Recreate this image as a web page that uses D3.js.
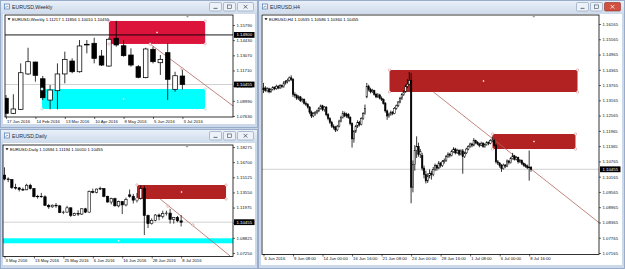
<!DOCTYPE html>
<html><head><meta charset="utf-8">
<script src="https://cdn.jsdelivr.net/npm/d3@7/dist/d3.min.js"></script>
<style>
html,body{margin:0;padding:0;background:#c4d3e6;overflow:hidden}
svg{display:block;font-family:"Liberation Sans",Arial,sans-serif}
</style></head><body>
<svg id="chart" width="625" height="269"></svg>
<script>
const symbol = "EURUSD";

// ---------- Weekly ----------
const weeklyLabels = ["17 Jan 2016","14 Feb 2016","13 Mar 2016","10 Apr 2016","8 May 2016","5 Jun 2016","3 Jul 2016"];
const weeklyLabelIdx = [0,4,8,12,16,20,24];
const weeklyTicks = [1.15790,1.14430,1.13070,1.11710,1.10350,1.08990,1.07630];
// [open, high, low, close]
const weeklyOHLC = [
 [1.0922,1.0951,1.0750,1.0787],[1.0787,1.0958,1.0780,1.0826],[1.0823,1.1235,1.0817,1.1151],
 [1.1140,1.1375,1.1131,1.1250],[1.1247,1.1250,1.1071,1.1128],[1.1097,1.1122,1.0906,1.0927],
 [1.0906,1.1041,1.0823,1.0996],[1.0990,1.1235,1.0823,1.1140],[1.1140,1.1340,1.1056,1.1271],
 [1.1256,1.1280,1.1146,1.1160],[1.1160,1.1444,1.1152,1.1391],[1.1406,1.1444,1.1325,1.1400],
 [1.1415,1.1465,1.1235,1.1280],[1.1301,1.1355,1.1211,1.1220],[1.1211,1.1465,1.1205,1.1451],
 [1.1460,1.1616,1.1384,1.1400],[1.1393,1.1444,1.1295,1.1304],[1.1310,1.1370,1.1205,1.1220],
 [1.1205,1.1220,1.1101,1.1110],[1.1107,1.1375,1.1101,1.1364],[1.1361,1.1384,1.1235,1.1250],
 [1.1241,1.1310,1.1131,1.1271],[1.1331,1.1415,1.0906,1.1092],[1.1002,1.1160,1.0981,1.1124],
 [1.11217,1.11856,1.10010,1.10455]
];
const weeklyLevel = 1.14900;
// [bar start, bar end, price top, price bottom]
const weeklyRedZone = [14.0, 27.1, 1.1615, 1.1409];
const weeklyCyanZone = [4.9, 27.1, 1.1005, 1.0826];
const weeklyTrend = [[19.6, 1.1409],[30.9, 1.0853]];
const weeklyTrendPoints = [[19.6, 1.1409],[23.95, 1.11856]];

// ---------- Daily ----------
const dailyLabels = ["3 May 2016","13 May 2016","25 May 2016","6 Jun 2016","16 Jun 2016","28 Jun 2016","8 Jul 2016"];
const dailyLabelIdx = [0,8,16,24,32,40,48];
const dailyTicks = [1.18275,1.16700,1.15125,1.13550,1.11975,1.10400,1.08825,1.07250];
const dailyOHLC = [
 [1.1535,1.1616,1.1480,1.1495],[1.1495,1.1512,1.1462,1.1488],[1.1488,1.1495,1.1390,1.1405],
 [1.1405,1.1445,1.1385,1.1402],[1.1402,1.1412,1.1365,1.1385],[1.1385,1.1405,1.1370,1.1382],
 [1.1382,1.1445,1.1378,1.1430],[1.1430,1.1445,1.1385,1.1395],[1.1395,1.1400,1.1305,1.1310],
 [1.1310,1.1330,1.1290,1.1315],[1.1315,1.1350,1.1300,1.1310],[1.1310,1.1325,1.1215,1.1220],
 [1.1220,1.1235,1.1185,1.1205],[1.1205,1.1230,1.1195,1.1222],[1.1222,1.1245,1.1195,1.1215],
 [1.1215,1.1225,1.1140,1.1145],[1.1145,1.1165,1.1130,1.1150],[1.1150,1.1215,1.1145,1.1195],
 [1.1195,1.1200,1.1100,1.1115],[1.1115,1.1145,1.1110,1.1135],[1.1135,1.1170,1.1110,1.1130],
 [1.1130,1.1190,1.1120,1.1185],[1.1185,1.1195,1.1140,1.1150],[1.1150,1.1375,1.1145,1.1365],
 [1.1365,1.1395,1.1345,1.1355],[1.1355,1.1395,1.1345,1.1390],[1.1390,1.1415,1.1380,1.1395],
 [1.1395,1.1400,1.1305,1.1315],[1.1315,1.1320,1.1250,1.1255],[1.1255,1.1300,1.1230,1.1290],
 [1.1290,1.1300,1.1210,1.1215],[1.1215,1.1270,1.1200,1.1260],[1.1260,1.1265,1.1130,1.1225],
 [1.1225,1.1300,1.1210,1.1280],[1.1330,1.1385,1.1300,1.1315],[1.1315,1.1340,1.1240,1.1275],
 [1.1275,1.1350,1.1250,1.1295],[1.1295,1.1428,1.1280,1.1395],[1.1395,1.1424,1.0912,1.1115],
 [1.1115,1.1125,1.0985,1.1030],[1.1030,1.1085,1.1020,1.1065],[1.1065,1.1130,1.1055,1.1120],
 [1.1120,1.1135,1.1065,1.1105],[1.1105,1.1165,1.1085,1.1135],[1.1135,1.1165,1.1115,1.1140],
 [1.1140,1.1185,1.1030,1.1075],[1.1075,1.1100,1.1030,1.1095],[1.1095,1.1110,1.1045,1.10594],
 [1.10594,1.11194,1.10010,1.10455]
];
const dailyRedZone = [36.0, 60.2, 1.14322, 1.12866];
const dailyCyanZone = [-3, 65, 1.08779, 1.08259];
const dailyTrend = [[42.3, 1.12866],[61.3, 1.0694]];
const dailyTrendPoints = [[44.4, 1.1213],[51.2, 1.1016]];

// ---------- H4 ----------
const h4Labels = ["6 Jun 2016","9 Jun 08:00","14 Jun 00:00","16 Jun 16:00","21 Jun 08:00","24 Jun 00:00","28 Jun 16:00","1 Jul 08:00","6 Jul 00:00","8 Jul 16:00"];
const h4LabelIdx = [0,16,32,48,64,80,96,112,128,144];
const h4Ticks = [1.16165,1.15565,1.14965,1.14365,1.13765,1.13165,1.12565,1.11965,1.11365,1.10765,1.10165,1.09565,1.08965,1.08365,1.07765,1.07165];
const h4OHLC = [
 [1.1358,1.1385,1.1345,1.1365],[1.1365,1.1372,1.1350,1.1355],[1.1355,1.1368,1.1348,1.1362],[1.1362,1.1366,1.1344,1.1350],
 [1.1350,1.1364,1.1346,1.1360],[1.1360,1.1372,1.1355,1.1368],[1.1368,1.1371,1.1356,1.1362],[1.1362,1.1378,1.1358,1.1372],
 [1.1372,1.1376,1.1360,1.1365],[1.1365,1.1380,1.1362,1.1375],[1.1375,1.1379,1.1364,1.1370],[1.1370,1.1392,1.1366,1.1385],
 [1.1385,1.1396,1.1378,1.1390],[1.1390,1.1402,1.1383,1.1395],[1.1395,1.1410,1.1390,1.1405],[1.1405,1.1415,1.1392,1.1398],
 [1.1398,1.1404,1.1330,1.1340],[1.1340,1.1348,1.1326,1.1335],[1.1335,1.1342,1.1318,1.1325],[1.1325,1.1336,1.1318,1.1330],
 [1.1330,1.1334,1.1310,1.1315],[1.1315,1.1326,1.1308,1.1320],[1.1320,1.1324,1.1300,1.1305],[1.1305,1.1312,1.1294,1.1300],
 [1.1300,1.1306,1.1284,1.1290],[1.1290,1.1294,1.1262,1.1270],[1.1270,1.1276,1.1247,1.1255],[1.1255,1.1270,1.1250,1.1265],
 [1.1265,1.1274,1.1256,1.1270],[1.1270,1.1280,1.1262,1.1275],[1.1275,1.1290,1.1270,1.1285],[1.1285,1.1300,1.1280,1.1295],
 [1.1295,1.1299,1.1274,1.1280],[1.1280,1.1294,1.1272,1.1290],[1.1290,1.1293,1.1254,1.1260],[1.1260,1.1266,1.1238,1.1245],
 [1.1245,1.1250,1.1224,1.1230],[1.1230,1.1236,1.1208,1.1215],[1.1215,1.1222,1.1202,1.1210],[1.1210,1.1216,1.1192,1.1200],
 [1.1200,1.1220,1.1195,1.1215],[1.1215,1.1240,1.1210,1.1235],[1.1235,1.1256,1.1230,1.1250],[1.1250,1.1275,1.1245,1.1265],
 [1.1265,1.1272,1.1250,1.1255],[1.1255,1.1268,1.1248,1.1262],[1.1262,1.1266,1.1244,1.1250],[1.1250,1.1254,1.1218,1.1225],
 [1.1225,1.1230,1.1131,1.1165],[1.1165,1.1200,1.1150,1.1195],[1.1195,1.1220,1.1188,1.1215],[1.1215,1.1238,1.1208,1.1230],
 [1.1230,1.1236,1.1214,1.1222],[1.1222,1.1250,1.1218,1.1245],[1.1245,1.1270,1.1240,1.1265],[1.1265,1.1300,1.1260,1.1285],
 [1.1330,1.1385,1.1325,1.1370],[1.1370,1.1378,1.1352,1.1360],[1.1360,1.1366,1.1344,1.1350],[1.1350,1.1362,1.1345,1.1355],
 [1.1355,1.1358,1.1335,1.1340],[1.1340,1.1346,1.1325,1.1330],[1.1330,1.1345,1.1326,1.1338],[1.1338,1.1342,1.1320,1.1325],
 [1.1325,1.1332,1.1314,1.1320],[1.1320,1.1324,1.1300,1.1305],[1.1305,1.1310,1.1268,1.1275],[1.1275,1.1280,1.1240,1.1255],
 [1.1255,1.1268,1.1248,1.1262],[1.1262,1.1276,1.1256,1.1270],[1.1270,1.1274,1.1258,1.1265],[1.1265,1.1290,1.1262,1.1285],
 [1.1285,1.1300,1.1280,1.1295],[1.1295,1.1314,1.1290,1.1310],[1.1310,1.1330,1.1305,1.1325],[1.1325,1.1345,1.1318,1.1340],
 [1.1340,1.1356,1.1334,1.1350],[1.1350,1.1378,1.1346,1.1372],[1.1372,1.1400,1.1365,1.1380],[1.1380,1.1428,1.1375,1.1395],
 [1.1395,1.1424,1.0912,1.0975],[1.0975,1.1080,1.0955,1.1065],[1.1065,1.1140,1.1040,1.1120],[1.1120,1.1175,1.1090,1.1135],
 [1.1135,1.1150,1.1095,1.1105],[1.1105,1.1125,1.1090,1.1115],[1.1100,1.1110,1.1040,1.1050],[1.1050,1.1060,1.1010,1.1025],
 [1.1025,1.1040,1.0990,1.1000],[1.1000,1.1030,1.0992,1.1020],[1.1020,1.1045,1.1010,1.1030],[1.1030,1.1040,1.1005,1.1025],
 [1.1025,1.1055,1.1018,1.1045],[1.1045,1.1068,1.1038,1.1060],[1.1060,1.1064,1.1040,1.1050],[1.1050,1.1078,1.1046,1.1070],
 [1.1070,1.1074,1.1052,1.1060],[1.1060,1.1082,1.1055,1.1075],[1.1075,1.1088,1.1068,1.1080],[1.1080,1.1102,1.1075,1.1095],
 [1.1095,1.1112,1.1090,1.1105],[1.1105,1.1110,1.1092,1.1100],[1.1100,1.1122,1.1096,1.1115],[1.1115,1.1132,1.1110,1.1125],
 [1.1125,1.1130,1.1104,1.1110],[1.1110,1.1126,1.1106,1.1120],[1.1120,1.1124,1.1098,1.1105],[1.1105,1.1124,1.1100,1.1118],
 [1.1118,1.1125,1.1028,1.1095],[1.1095,1.1115,1.1090,1.1110],[1.1110,1.1130,1.1105,1.1125],[1.1125,1.1140,1.1120,1.1135],
 [1.1135,1.1150,1.1130,1.1145],[1.1145,1.1150,1.1132,1.1140],[1.1140,1.1168,1.1136,1.1158],[1.1158,1.1162,1.1144,1.1150],
 [1.1150,1.1156,1.1140,1.1145],[1.1145,1.1150,1.1132,1.1140],[1.1140,1.1154,1.1136,1.1148],[1.1148,1.1152,1.1130,1.1135],
 [1.1135,1.1148,1.1130,1.1142],[1.1142,1.1156,1.1138,1.1150],[1.1150,1.1155,1.1140,1.1148],[1.1148,1.1164,1.1144,1.1158],
 [1.1158,1.1174,1.1152,1.1160],[1.1160,1.1164,1.1135,1.1140],[1.1140,1.1145,1.1068,1.1075],[1.1075,1.1082,1.1062,1.1070],
 [1.1070,1.1074,1.1052,1.1060],[1.1060,1.1066,1.1035,1.1048],[1.1048,1.1068,1.1044,1.1062],[1.1062,1.1066,1.1050,1.1058],
 [1.1058,1.1084,1.1054,1.1078],[1.1078,1.1082,1.1064,1.1072],[1.1072,1.1094,1.1068,1.1088],[1.1088,1.1110,1.1084,1.1098],
 [1.1098,1.1102,1.1080,1.1085],[1.1085,1.1098,1.1080,1.1092],[1.1092,1.1095,1.1068,1.1075],[1.1075,1.1086,1.1070,1.1080],
 [1.1080,1.1084,1.1062,1.1068],[1.1068,1.1072,1.1056,1.1062],[1.1062,1.1068,1.1052,1.1058],[1.1058,1.1064,1.1046,1.1052],
 [1.1052,1.11194,1.1001,1.10535],[1.10535,1.10586,1.10360,1.10455]
];
const h4UpperZone = [68.3, 170.2, 1.14357, 1.13493];
const h4LowerZone = [124.1, 169.1, 1.11842, 1.11252];
const h4Trend = [[92.1, 1.13493],[182.1, 1.08344]];

// ================= drawing =================
const svg = d3.select('#chart');
const defs = svg.append('defs');
const tg = defs.append('linearGradient').attr('id','tb').attr('x1',0).attr('y1',0).attr('x2',0).attr('y2',1);
tg.append('stop').attr('offset','0%').attr('stop-color','#e9f0f8');
tg.append('stop').attr('offset','100%').attr('stop-color','#cfdcec');

function drawWindow(x,y,w,h,title,active){
  const g = svg.append('g');
  g.append('rect').attr('x',x+0.5).attr('y',y+0.5).attr('width',w-1).attr('height',h-1)
    .attr('fill','#cbd9ea').attr('stroke','#8ea4c2').attr('stroke-width',0.8);
  g.append('rect').attr('x',x+1).attr('y',y+1).attr('width',w-2).attr('height',12.5).attr('fill','url(#tb)');
  g.append('rect').attr('x',x+4.5).attr('y',y+4).attr('width',5).attr('height',5)
    .attr('fill','#f4f8fc').attr('stroke','#4d79ad').attr('stroke-width',0.7);
  g.append('path').attr('d',`M${x+5.5},${y+8}L${x+7},${y+6}L${x+8.5},${y+7}`).attr('fill','none').attr('stroke','#2a5a9a').attr('stroke-width',0.5);
  g.append('text').attr('x',x+12).attr('y',y+9).attr('font-size',5.2).attr('fill','#1d2b40').text(title);
  const R = x+w;
  [[R-49,12],[R-35,12],[R-21,16]].forEach(([bx,bw],k)=>{
    const close = k===2 && active;
    g.append('rect').attr('x',bx+0.5).attr('y',y+2.5).attr('width',bw).attr('height',8.5).attr('rx',1.2)
     .attr('fill', close?'#d0513f':'#edf2f8').attr('stroke', close?'#8f2e22':'#8698b3').attr('stroke-width',0.6);
    const cx = bx+0.5+bw/2, cy = y+6.75, col = close?'#fff':'#3d4b5e';
    if(k===0) g.append('line').attr('x1',cx-2).attr('x2',cx+2).attr('y1',cy+1.6).attr('y2',cy+1.6).attr('stroke',col).attr('stroke-width',0.8);
    if(k===1) g.append('rect').attr('x',cx-2).attr('y',cy-1.8).attr('width',4).attr('height',3.6).attr('fill','none').attr('stroke',col).attr('stroke-width',0.6);
    if(k===2) g.append('path').attr('d',`M${cx-1.8},${cy-1.8}L${cx+1.8},${cy+1.8}M${cx+1.8},${cy-1.8}L${cx-1.8},${cy+1.8}`).attr('stroke',col).attr('stroke-width',0.8);
  });
  g.append('rect').attr('x',x+3).attr('y',y+14).attr('width',w-6).attr('height',h-18).attr('fill','#fff');
}

function drawPanel(p){
  const x = d3.scaleLinear().domain([0,1]).range([p.x0, p.x0+p.step]);
  const y = d3.scaleLinear().domain([p.ticks[p.ticks.length-1], p.ticks[0]]).range([p.tickBotY, p.tickTopY]);
  const g = svg.append('g');
  defs.append('clipPath').attr('id','clip'+p.id).append('rect')
    .attr('x',p.left).attr('y',p.top).attr('width',p.right-p.left).attr('height',p.bottom-p.top);
  const plot = g.append('g').attr('clip-path',`url(#clip${p.id})`);
  const last = p.data[p.data.length-1];
  const bid = last[3];

  p.zones.forEach(z=>{
    plot.append('rect').attr('x',x(z.r[0])).attr('width',x(z.r[1])-x(z.r[0]))
      .attr('y',y(z.r[2])).attr('height',y(z.r[3])-y(z.r[2])).attr('fill',z.color);
  });
  plot.append('line').attr('x1',p.left).attr('x2',p.right).attr('y1',y(bid)).attr('y2',y(bid))
    .attr('stroke','#c4c4c4').attr('stroke-width',0.8);
  if(p.level!==undefined){
    plot.append('line').attr('x1',p.left).attr('x2',p.right).attr('y1',y(p.level)).attr('y2',y(p.level))
      .attr('stroke','#000').attr('stroke-width',0.9);
  }
  plot.append('line').attr('x1',x(p.trend[0][0])).attr('y1',y(p.trend[0][1]))
    .attr('x2',x(p.trend[1][0])).attr('y2',y(p.trend[1][1]))
    .attr('stroke','#b2665e').attr('stroke-width',0.8);
  const c = plot.append('g').selectAll('g').data(p.data).join('g');
  c.append('line').attr('x1',(d,i)=>x(i)).attr('x2',(d,i)=>x(i))
    .attr('y1',d=>y(d[1])).attr('y2',d=>y(d[2])).attr('stroke','#000').attr('stroke-width',p.wick);
  c.append('rect').attr('x',(d,i)=>x(i)-p.bodyW/2).attr('width',p.bodyW)
    .attr('y',d=>y(Math.max(d[0],d[3])))
    .attr('height',d=>Math.max(0.5,Math.abs(y(d[0])-y(d[3]))))
    .attr('fill',d=>d[3]>d[0]?p.bullFill:'#000').attr('stroke','#000').attr('stroke-width',p.bodyStroke);
  p.zones.forEach(z=>{
    const pts=[[z.r[0],z.r[2]],[z.r[1],z.r[2]],[z.r[1],z.r[3]],[z.r[0],z.r[3]]];
    pts.forEach(q=>plot.append('circle').attr('cx',x(q[0])).attr('cy',y(q[1])).attr('r',1.2)
      .attr('fill','#fff').attr('stroke',z.mark).attr('stroke-width',0.5));
    plot.append('rect').attr('x',x((z.r[0]+z.r[1])/2)-0.7).attr('y',y((z.r[2]+z.r[3])/2)-0.7)
      .attr('width',1.4).attr('height',1.4).attr('fill','#fff');
  });
  (p.trendPoints||[]).forEach(q=>plot.append('circle').attr('cx',x(q[0])).attr('cy',y(q[1])).attr('r',1.2)
      .attr('fill','#fff').attr('stroke','#c07070').attr('stroke-width',0.5));

  g.append('rect').attr('x',p.left).attr('y',p.top).attr('width',p.right-p.left).attr('height',p.bottom-p.top)
    .attr('fill','none').attr('stroke','#000').attr('stroke-width',0.8);
  const sx = x(p.shiftIdx);
  g.append('path').attr('d',`M${sx-1.6},${p.top+0.8}L${sx+1.6},${p.top+0.8}L${sx},${p.top+2.8}Z`).attr('fill','#9a9a9a');

  const ya = g.append('g').attr('transform',`translate(${p.right},0)`)
    .call(d3.axisRight(y).tickValues(p.ticks).tickSize(2).tickPadding(1.5).tickFormat(d3.format('.5f')));
  ya.select('.domain').remove();
  ya.selectAll('text').attr('font-size',4.3).attr('font-family','"Liberation Sans",Arial,sans-serif').attr('fill','#111');
  ya.selectAll('line').attr('stroke-width',0.6);
  const hl = [bid].concat(p.level!==undefined?[p.level]:[]);
  hl.forEach(v=>{
    g.append('rect').attr('x',p.right+1).attr('y',y(v)-2.9).attr('width',20.5).attr('height',5.8).attr('fill','#000');
    g.append('text').attr('x',p.right+3.5).attr('y',y(v)+1.5).attr('font-size',4.3).attr('fill','#fff').text(d3.format('.5f')(v));
  });
  const xa = g.append('g').attr('transform',`translate(0,${p.bottom})`)
    .call(d3.axisBottom(x).tickValues(p.labelIdx).tickFormat((d,i)=>p.labels[i]).tickSize(2).tickPadding(1));
  xa.select('.domain').remove();
  xa.selectAll('text').attr('font-size',4.2).attr('font-family','"Liberation Sans",Arial,sans-serif')
    .attr('text-anchor','start').attr('dx',0.5).attr('fill','#111');
  xa.selectAll('line').attr('stroke-width',0.6);

  const f = d3.format('.5f');
  g.append('path').attr('d',`M${p.left+2.5},${p.top+3.2}L${p.left+5.5},${p.top+3.2}L${p.left+4},${p.top+5.2}Z`).attr('fill','#000');
  g.append('text').attr('x',p.left+7).attr('y',p.top+5.6).attr('font-size',4.2).attr('fill','#000')
    .text(`${symbol},${p.tf}  ${f(last[0])} ${f(last[1])} ${f(last[2])} ${f(last[3])}`);
}

drawWindow(0,0,258,128,`${symbol},Weekly`,false);
drawWindow(0,129,258,140,`${symbol},Daily`,false);
drawWindow(258,0,367,269,`${symbol},H4`,true);

drawPanel({id:'w', tf:'Weekly', left:5, right:233, top:15, bottom:117, x0:6, step:7.35,
  ticks:weeklyTicks, tickTopY:25, tickBotY:116, data:weeklyOHLC, labels:weeklyLabels, labelIdx:weeklyLabelIdx,
  bodyW:4.6, wick:0.8, bodyStroke:0.75, bullFill:'#fff', level:weeklyLevel,
  zones:[{r:weeklyCyanZone,color:'#00ffff',mark:'#7fcfcf'},{r:weeklyRedZone,color:'#dc143c',mark:'#e08a9a'}],
  trend:weeklyTrend, trendPoints:weeklyTrendPoints, shiftIdx:24.7});

drawPanel({id:'d', tf:'Daily', left:3, right:233, top:145, bottom:256.5, x0:4.5, step:3.68,
  ticks:dailyTicks, tickTopY:147, tickBotY:253, data:dailyOHLC, labels:dailyLabels, labelIdx:dailyLabelIdx,
  bodyW:2.4, wick:0.75, bodyStroke:0.6, bullFill:'#fff',
  zones:[{r:dailyCyanZone,color:'#00ffff',mark:'#7fcfcf'},{r:dailyRedZone,color:'#b22222',mark:'#d08080'}],
  trend:dailyTrend, trendPoints:dailyTrendPoints, shiftIdx:49.6});

drawPanel({id:'h', tf:'H4', left:262, right:599, top:15, bottom:254.5, x0:263.5, step:1.845,
  ticks:h4Ticks, tickTopY:24, tickBotY:253, data:h4OHLC, labels:h4Labels, labelIdx:h4LabelIdx,
  bodyW:1.5, wick:0.8, bodyStroke:0.5, bullFill:'#fff',
  zones:[{r:h4UpperZone,color:'#b22222',mark:'#d08080'},{r:h4LowerZone,color:'#b22222',mark:'#d08080'}],
  trend:h4Trend, trendPoints:[], shiftIdx:146.5});
</script>
</body></html>
